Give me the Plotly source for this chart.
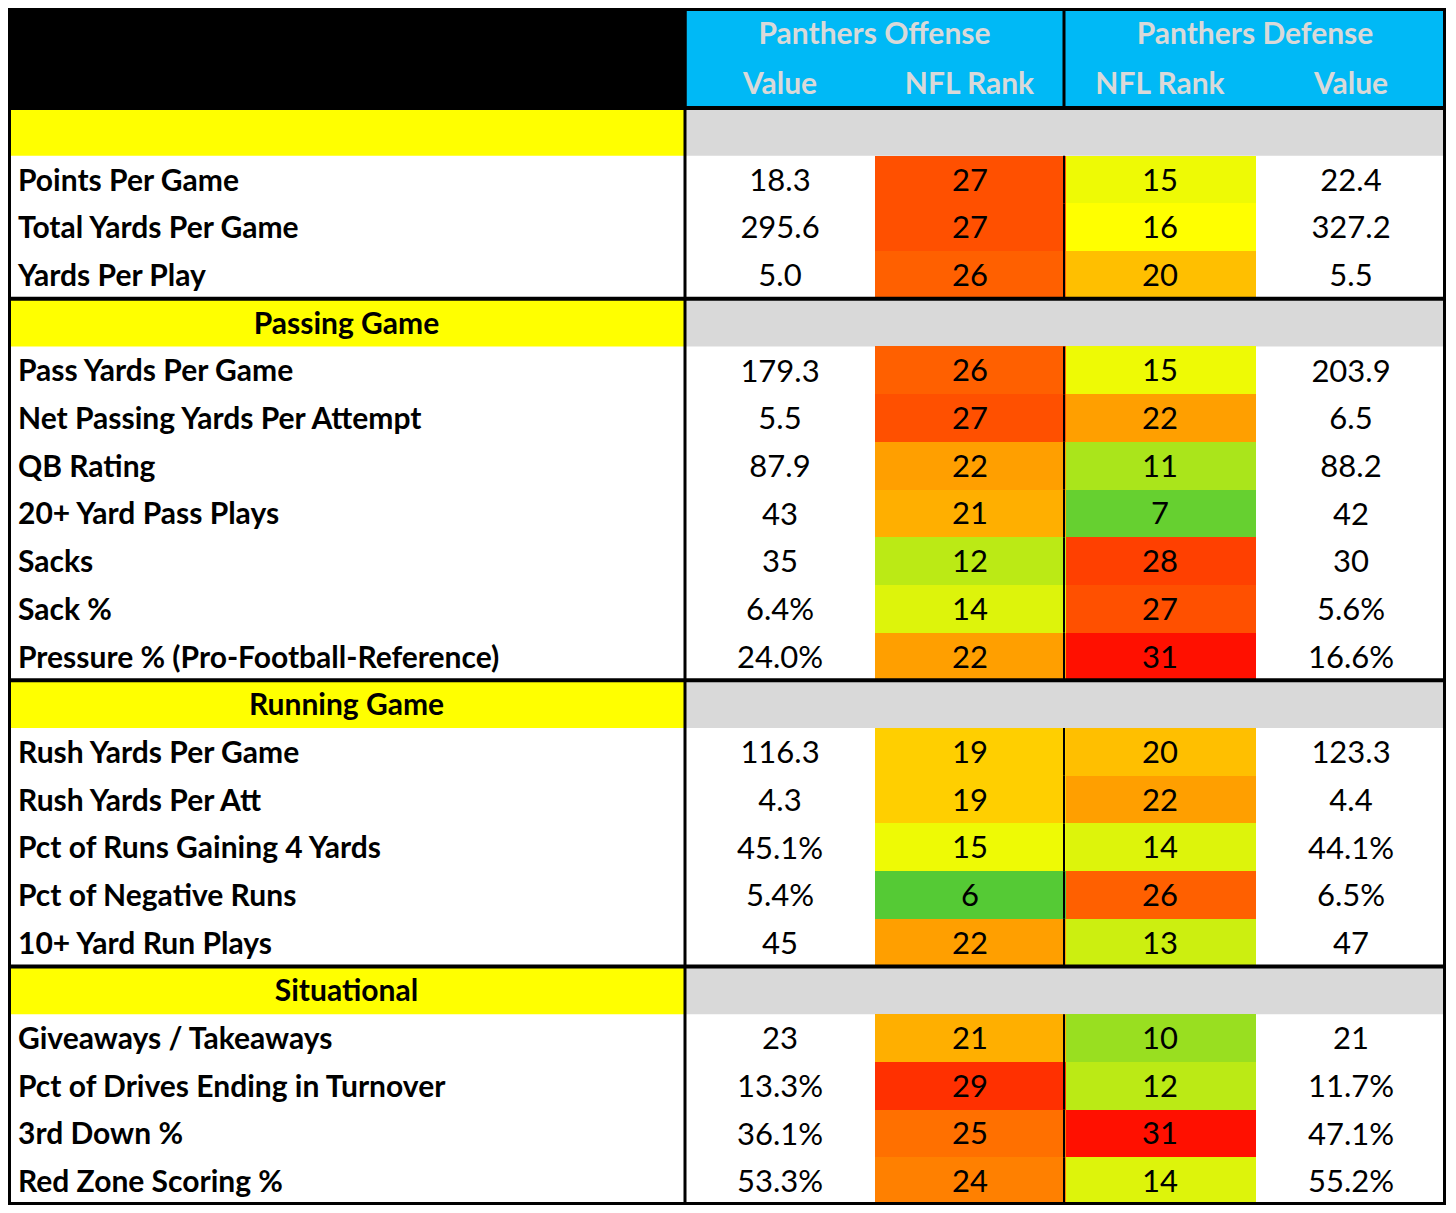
import plotly.graph_objects as go

# ---------------------------------------------------------------------------
# data
# ---------------------------------------------------------------------------
sections = ["", "Passing Game", "Running Game", "Situational"]
section_sizes = [3, 7, 5, 4]

stat_labels = [
    "Points Per Game", "Total Yards Per Game", "Yards Per Play",
    "Pass Yards Per Game", "Net Passing Yards Per Attempt", "QB Rating",
    "20+ Yard Pass Plays", "Sacks", "Sack %",
    "Pressure % (Pro-Football-Reference)",
    "Rush Yards Per Game", "Rush Yards Per Att", "Pct of Runs Gaining 4 Yards",
    "Pct of Negative Runs", "10+ Yard Run Plays",
    "Giveaways / Takeaways", "Pct of Drives Ending in Turnover",
    "3rd Down %", "Red Zone Scoring %",
]
off_value = ["18.3", "295.6", "5.0",
             "179.3", "5.5", "87.9", "43", "35", "6.4%", "24.0%",
             "116.3", "4.3", "45.1%", "5.4%", "45",
             "23", "13.3%", "36.1%", "53.3%"]
off_rank = [27, 27, 26,
            26, 27, 22, 21, 12, 14, 22,
            19, 19, 15, 6, 22,
            21, 29, 25, 24]
def_rank = [15, 16, 20,
            15, 22, 11, 7, 28, 27, 31,
            20, 22, 14, 26, 13,
            10, 12, 31, 14]
def_value = ["22.4", "327.2", "5.5",
             "203.9", "6.5", "88.2", "42", "30", "5.6%", "16.6%",
             "123.3", "4.4", "44.1%", "6.5%", "47",
             "21", "11.7%", "47.1%", "55.2%"]

group_titles = ["Panthers Offense", "Panthers Defense"]
col_titles = ["Value", "NFL Rank", "NFL Rank", "Value"]

# ---------------------------------------------------------------------------
# layout constants (page pixels; the html body adds an 8px margin)
# ---------------------------------------------------------------------------
PAGE_MARGIN = 8
W, H = 1456 - 2 * PAGE_MARGIN, 1213 - 2 * PAGE_MARGIN
LEFT, RIGHT = 8, 1446
TOP, BOTTOM = 8, 1205
HEADER_H = 100
COL_EDGES = [LEFT, 685, 875, 1064, 1256, RIGHT]
FONT = "Lato"
LABEL_SIZE = 30
VALUE_SIZE = 31
TEXT_DY = 3.5  # scatter text sits a little high, nudge it down
CYAN = "#00B9F6"
YELLOW = "#FFFF00"
GRAY = "#D9D9D9"

# build the row list: section rows followed by their stats
rows = []  # (kind, index)
k = 0
for s, n in zip(sections, section_sizes):
    rows.append(("section", s))
    for _ in range(n):
        rows.append(("stat", k))
        k += 1
n_rows = len(rows)
ROW_H = (BOTTOM - TOP - HEADER_H) / n_rows
body_top = TOP + HEADER_H


def row_top(i):
    return body_top + i * ROW_H


def row_mid(i):
    return body_top + (i + 0.5) * ROW_H + TEXT_DY


fig = go.Figure()
shapes = []

# header backgrounds
shapes.append(dict(type="rect", x0=LEFT, x1=COL_EDGES[1], y0=TOP, y1=body_top,
                   fillcolor="black", line_width=0, layer="below"))
shapes.append(dict(type="rect", x0=COL_EDGES[1], x1=RIGHT - 1.5, y0=TOP + 1.5,
                   y1=body_top, fillcolor=CYAN,
                   line=dict(color="black", width=3), layer="below"))

# section row backgrounds
for i, (kind, v) in enumerate(rows):
    if kind == "section":
        shapes.append(dict(type="rect", x0=LEFT, x1=COL_EDGES[1],
                           y0=row_top(i), y1=row_top(i + 1),
                           fillcolor=YELLOW, line_width=0, layer="below"))
        shapes.append(dict(type="rect", x0=COL_EDGES[1], x1=RIGHT,
                           y0=row_top(i), y1=row_top(i + 1),
                           fillcolor=GRAY, line_width=0, layer="below"))

# rank heatmap (offense rank / defense rank columns)
y_edges = [row_top(i) for i in range(n_rows + 1)]
z = []
for kind, v in rows:
    if kind == "section":
        z.append([None, None])
    else:
        z.append([off_rank[v], def_rank[v]])

fig.add_trace(go.Heatmap(
    x=COL_EDGES[2:5], y=y_edges, z=z,
    zmin=1, zmax=32,
    colorscale=[[0, "#00B050"], [15 / 31, "#FFFF00"], [1, "#FF0000"]],
    showscale=False, hoverinfo="skip",
    texttemplate="%{z}",
    textfont=dict(family=FONT, size=VALUE_SIZE, color="black"),
))

# stat labels
stat_rows = [i for i, (kind, v) in enumerate(rows) if kind == "stat"]
fig.add_trace(go.Scatter(
    x=[18] * len(stat_rows), y=[row_mid(i) for i in stat_rows],
    text=stat_labels, mode="text", textposition="middle right",
    textfont=dict(family=FONT, size=LABEL_SIZE, color="black", weight="bold"),
    hoverinfo="skip", showlegend=False,
))

# section titles
sec_rows = [i for i, (kind, v) in enumerate(rows) if kind == "section"]
fig.add_trace(go.Scatter(
    x=[(COL_EDGES[0] + COL_EDGES[1]) / 2] * len(sec_rows),
    y=[row_mid(i) for i in sec_rows],
    text=sections, mode="text", textposition="middle center",
    textfont=dict(family=FONT, size=LABEL_SIZE, color="black", weight="bold"),
    hoverinfo="skip", showlegend=False,
))

# value columns
for col, vals in [(1, off_value), (4, def_value)]:
    fig.add_trace(go.Scatter(
        x=[(COL_EDGES[col] + COL_EDGES[col + 1]) / 2] * len(stat_rows),
        y=[row_mid(i) for i in stat_rows],
        text=vals, mode="text", textposition="middle center",
        textfont=dict(family=FONT, size=VALUE_SIZE, color="black"),
        hoverinfo="skip", showlegend=False,
    ))

# header texts
fig.add_trace(go.Scatter(
    x=[(COL_EDGES[1] + COL_EDGES[3]) / 2, (COL_EDGES[3] + COL_EDGES[5]) / 2],
    y=[TOP + HEADER_H * 0.25 + TEXT_DY] * 2,
    text=group_titles, mode="text", textposition="middle center",
    textfont=dict(family=FONT, size=LABEL_SIZE, color=GRAY, weight="bold"),
    hoverinfo="skip", showlegend=False,
))
fig.add_trace(go.Scatter(
    x=[(COL_EDGES[c] + COL_EDGES[c + 1]) / 2 for c in range(1, 5)],
    y=[TOP + HEADER_H * 0.75 + TEXT_DY] * 4,
    text=col_titles, mode="text", textposition="middle center",
    textfont=dict(family=FONT, size=LABEL_SIZE, color=GRAY, weight="bold"),
    hoverinfo="skip", showlegend=False,
))

# borders
line = dict(color="black", width=3)
shapes.append(dict(type="line", x0=COL_EDGES[1], x1=COL_EDGES[1],
                   y0=TOP, y1=BOTTOM, line=line))
shapes.append(dict(type="line", x0=COL_EDGES[3], x1=COL_EDGES[3],
                   y0=TOP, y1=body_top, line=line))
for i, (kind, v) in enumerate(rows):
    if kind == "stat":
        shapes.append(dict(type="line", x0=COL_EDGES[3], x1=COL_EDGES[3],
                           y0=row_top(i), y1=row_top(i + 1),
                           line=dict(color="black", width=2)))
for i in sec_rows:
    shapes.append(dict(type="line", x0=LEFT, x1=RIGHT,
                       y0=row_top(i), y1=row_top(i), line=dict(color="black", width=4)))
shapes.append(dict(type="rect", x0=LEFT + 1.5, x1=RIGHT - 1.5,
                   y0=TOP + 1.5, y1=BOTTOM - 1.5,
                   line=dict(color="black", width=3)))

fig.update_xaxes(range=[PAGE_MARGIN, PAGE_MARGIN + W], visible=False,
                 fixedrange=True)
fig.update_yaxes(range=[PAGE_MARGIN + H, PAGE_MARGIN], visible=False,
                 fixedrange=True)
fig.update_layout(
    width=W, height=H, margin=dict(l=0, r=0, t=0, b=0, pad=0),
    plot_bgcolor="white", paper_bgcolor="white",
    shapes=shapes, showlegend=False, autosize=False,
)

fig.write_html("out.html")
